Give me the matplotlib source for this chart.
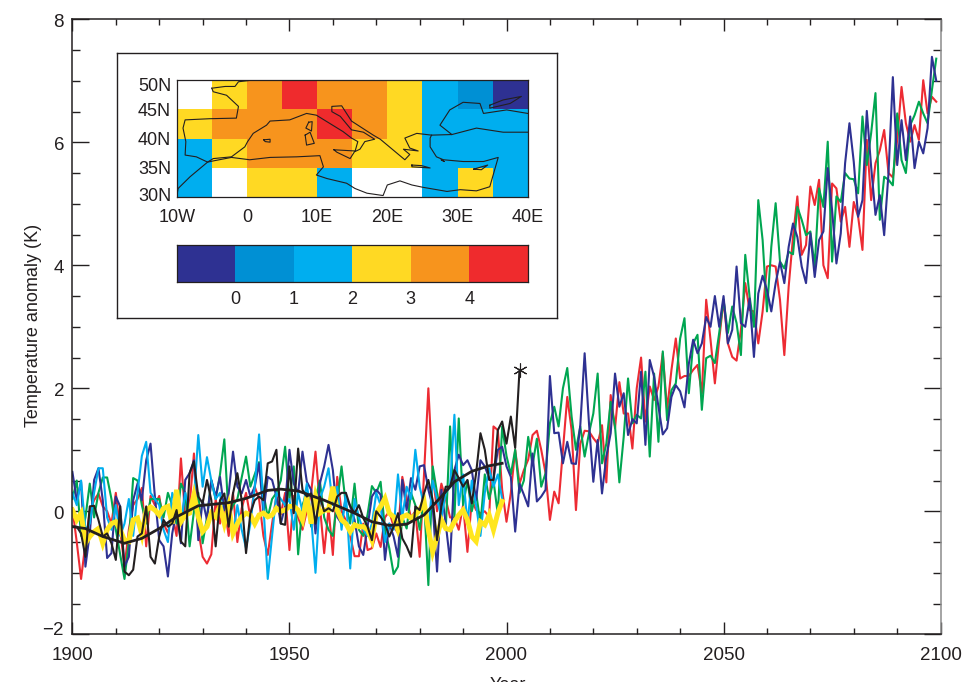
import numpy as np
import matplotlib
matplotlib.use("Agg")
from matplotlib import pyplot as plt
from matplotlib.colors import ListedColormap, BoundaryNorm
from matplotlib.ticker import MultipleLocator

plt.rcParams['font.family'] = ['Liberation Sans', 'DejaVu Sans']

W, H = 980, 682

# runs, one value per year from 1900
red_run = [
    .05, -.5, -1.1, -.52, .0, .18, .29, .08, .0, -.2,
    .3, -.3, -.9, -.3, .1, .2, .38, -.57, .25, .1,
    .25, -.2, -.35, -.05, -.4, .86, -.1, .1, .94, -.3,
    -.74, -.85, -.7, .2, -.2, .1, -.4, .3, -.5, .05,
    .3, -.1, .4, .2, -.4, -.71, -.2, .25, -.05, .3,
    -.63, .25, -.1, -.3, .0, .3, .97, .1, -.68, .05,
    -.71, .56, .0, -.15, -.4, -.73, -.73, -.2, -.63, -.6,
    -.36, -.58, -.1, .0, -.25, -.35, .56, .2, -.1, .0,
    -.74, .6, 2.0, .6, .0, .45, .2, -.1, -.1, -.3,
    .1, -.66, .18, .02, -.03, .0, -.09, 1.38, 1.32, .35,
    -.17, .3, 1.0, .45, .67, .84, 1.24, 1.31, 1.0, .62,
    -.14, .32, .13, 1.0, 1.86, 1.32, .02, 1.1, 1.31, 1.3,
    1.19, 1.1, 1.4, .47, 1.89, 1.35, 2.1, 1.59, 1.59, 1.02,
    2.0, 2.5, 1.46, 2.03, 1.81, 2.03, 2.57, 1.65, 2.3, 2.81,
    2.16, 2.2, 2.2, 2.3, 2.38, 1.92, 3.44, 2.79, 2.08, 2.79,
    3.44, 2.73, 2.51, 2.45, 2.95, 3.71, 3.27, 3.25, 2.73, 3.25,
    3.98, 4.0, 3.98, 3.44, 2.54, 3.65, 4.46, 5.12, 4.17, 4.33,
    5.28, 4.98, 5.39, 4.0, 3.79, 5.33, 5.25, 4.71, 4.95, 4.3,
    5.03, 4.79, 4.25, 6.04, 5.06, 5.66, 5.87, 6.2, 5.5, 5.43,
    6.04, 6.9, 6.31, 6.01, 6.28, 6.04, 7.01, 6.47, 6.74, 6.66,
]
green_run = [
    .2, .5, -.4, -.1, .45, -.1, .3, .55, .55, .2,
    -.3, -.7, -1.1, -.5, .54, .5, .1, -.2, .2, .2,
    .2, -.1, .3, .1, -.2, .45, .3, -.57, .0, .3,
    -.52, -.1, .5, .2, .6, 1.17, -.1, .1, .2, .55,
    .89, .4, .6, .8, .3, -.1, .2, .3, .5, 1.05,
    .2, .73, -.7, .1, .3, -.25, .2, .5, -.1, -.3,
    -.4, .15, .73, .1, -.2, .45, -.3, -.4, -.05, .41,
    .3, .48, -.3, -.6, -1.02, -.9, -.1, -.28, .3, .1,
    -.3, .2, -1.2, .73, .3, -.1, -.3, 1.38, -.1, 1.51,
    .1, .5, .0, .3, -.2, .6, .2, .5, -.05, 1.38,
    .9, .6, 1.0, .3, .5, 1.21, .75, 1.18, .4, .62,
    1.43, 1.7, 1.38, 2.0, 2.33, 1.54, 1.0, 1.38, .89, 1.27,
    1.59, 2.24, .78, 1.1, 1.78, 1.38, .47, 1.21, 2.16, 1.43,
    1.57, 1.51, 2.27, .89, 2.24, 1.13, 2.6, 1.48, 1.97, 2.08,
    2.81, 3.14, 1.92, 2.73, 2.87, 1.65, 2.49, 2.53, 2.41, 2.9,
    3.44, 2.9, 3.33, 3.06, 2.54, 4.17, 3.49, 3.0, 5.06, 4.41,
    3.25, 4.3, 5.01, 4.06, 3.95, 4.22, 4.18, 4.95, 4.74, 4.49,
    4.55, 3.98, 5.25, 4.95, 6.01, 4.06, 5.12, 5.03, 5.5, 5.41,
    5.4, 5.17, 6.42, 5.63, 6.15, 6.8, 4.74, 5.44, 5.39, 5.3,
    6.47, 5.71, 5.5, 6.28, 6.44, 6.66, 6.47, 6.31, 6.85, 7.36,
]
blue_run = [
    .64, .18, .48, -.9, -.36, .51, .7, .18, -.76, -.68,
    .24, .08, -.9, -.74, .18, .45, .18, .83, 1.1, .24,
    -.47, -.57, -1.06, -.36, .02, -.52, .51, .62, .83, -.47,
    .18, -.14, .51, .24, .56, .02, .29, .97, .4, .29,
    .51, .24, .4, .78, -.03, .56, .51, .24, -.2, .08,
    1.0, .45, .3, .97, .48, .35, -.36, .45, .73, 1.08,
    .67, -.09, -.2, .24, .08, -.14, -.57, -.71, -.25, .24,
    .35, .27, -.79, -.2, -.41, -.74, .51, .02, .54, .35,
    .73, .75, .35, .08, -.98, .35, -.2, -.82, .67, .92,
    .75, .83, .67, .18, .83, .73, .54, .51, 1.0, 1.05,
    .73, .56, -.33, .45, .27, .08, .94, .16, .24, .35,
    2.2, 1.27, 1.28, .78, 1.13, .78, .77, 1.4, 2.57, 1.43,
    .48, 1.16, .29, .89, 1.27, 2.24, 1.7, 1.92, 1.24, 1.5,
    1.43, 2.27, 1.08, 2.46, 2.19, 1.7, 1.25, 1.35, 1.86, 2.05,
    1.95, 1.69, 2.4, 2.79, 2.57, 2.73, 3.16, 3.0, 3.5, 3.0,
    3.5, 2.73, 2.95, 3.98, 3.06, 3.0, 3.46, 2.51, 3.54, 3.83,
    3.6, 3.25, 3.71, 4.06, 3.71, 4.3, 4.68, 4.46, 3.98, 3.71,
    4.52, 3.81, 4.41, 4.55, 5.58, 4.9, 4.03, 4.52, 5.66, 6.31,
    5.68, 4.79, 5.06, 6.51, 5.6, 4.82, 5.14, 4.49, 5.5, 7.06,
    5.63, 6.36, 5.71, 6.42, 5.58, 6.01, 5.82, 6.23, 7.39, 7.0,
]
cyan_run = [
    .3, .1, .5, -.3, -.2, .3, .7, .7, -.1, -.3,
    .1, -.4, -.2, .2, -.4, .3, .9, 1.13, .3, .2,
    .1, -.3, -.5, .3, .1, -.2, .3, .0, .2, 1.24,
    .4, .88, .5, .2, .3, -.2, .2, -.4, .1, -.3,
    -.6, -.2, .4, 1.25, .1, -1.1, -.4, .3, .2, .1,
    .2, -.3, .3, .0, .45, -.1, -1.0, .2, .4, .7,
    .1, .4, -.3, .3, -.93, .2, -.1, -.3, -.4, -.2,
    .3, .1, -.5, -.2, -.3, .6, -.1, .4, .2, 1.0,
    .4, .1, -.3, .5, .2, -.1, .3, .4, 1.57, .1,
    .6, -.2, .5, .1, -.4, .3, .7, .4, .6, .2,
]
# observations 1900-2003, the last one gets the star
obs = [
    -.25, -.25, -.36, -.74, .08, .09, -.14, -.41, -.36, -.52,
    -.79, .08, -.98, -1.04, -.95, -.41, -.36, .08, -.74, -.85,
    -.41, -.14, -.25, -.2, .02, -.49, -.57, .62, .81, .24,
    .13, .51, .18, -.57, .18, .29, -.25, .29, .62, .18,
    -.68, -.03, .18, .24, .18, .78, .81, 1.0, -.2, -.22,
    .73, -.03, 1.02, .35, .24, .29, -.2, .24, .0, .05,
    .0, .24, .3, .3, .08, -.03, .1, -.11, -.25, -.47,
    .0, -.09, -.2, -.41, -.25, -.03, -.44, -.57, -.74, .08,
    .02, .29, .51, .18, -.47, .08, .4, .4, .67, .54,
    .4, .51, .13, .62, 1.27, 1.0, .51, .51, 1.32, 1.46,
    1.1, 1.54, 1.03, 2.3,
]
ens_mean = [
    .02, -.14, -.03, -.52, -.41, -.33, -.28, -.52, -.3, -.2,
    -.17, -.3, -.47, -.49, -.14, -.11, -.38, .02, .07, .02,
    -.06, .05, .08, -.2, .35, -.17, -.06, -.03, .27, -.09,
    -.33, -.25, -.03, -.09, .08, -.2, .08, -.36, -.2, -.09,
    -.03, -.06, -.2, -.06, -.03, -.09, -.06, .05, .0, .02,
    .08, .08, .02, -.14, .24, -.2, .24, -.03, .02, .02,
    .4, .02, -.14, -.2, -.33, -.22, -.25, -.25, -.3, -.47,
    -.03, .08, .21, -.03, -.09, -.3, -.09, -.06, -.11, -.06,
    .02, .16, -.3, -.66, -.41, -.14, -.28, -.3, -.17, -.06,
    .02, -.14, -.41, -.49, -.17, -.22, -.06, -.3, -.03, .16,
]
smooth_years = [1900, 1903, 1907, 1912, 1916, 1920, 1924, 1929, 1936, 1940, 1945, 1948,
                1952, 1958, 1965, 1969, 1973, 1977, 1981, 1985, 1988, 1992, 1996, 1999]
smooth_vals = [-.25, -.28, -.41, -.52, -.44, -.28, -.09, .09, .14, .21, .34, .36,
               .33, .18, -.03, -.17, -.23, -.21, -.06, .24, .48, .65, .74, .78]
y_ticks = [-2, 0, 2, 4, 6, 8]

# inset: warming per 5 degree cell, south row first, nan = no data
lon_edges = [-10, -5, 0, 5, 10, 15, 20, 25, 30, 35, 40]
lat_edges = [30, 35, 40, 45, 50]
cells = [
    [1.5, np.nan, 2.5, 2.5, 1.5, np.nan, np.nan, 1.5, 2.5, 1.5],
    [1.5, 2.5, 3.5, 3.5, 3.5, 2.5, 2.5, 1.5, 1.5, 1.5],
    [2.5, 3.5, 3.5, 3.5, 4.5, 3.5, 2.5, 1.5, 1.5, 1.5],
    [np.nan, 2.5, 3.5, 4.5, 3.5, 3.5, 2.5, 1.5, 0.5, -0.5],
]
level_bounds = [-1, 0, 1, 2, 3, 4, 5]
level_colors = ['#2e3192', '#0090d4', '#00aeef', '#ffd923', '#f7941d', '#ef2b2d']
lon_ticks = [-10, 0, 10, 20, 30, 40]
lon_labels = ['10W', '0', '10E', '20E', '30E', '40E']
lat_labels = ['30N', '35N', '40N', '45N', '50N']

# rough coastlines, (lon, lat)
coasts = [
    [(-5.0, 48.6), (-3.1, 48.9), (-1.7, 48.9), (-1.2, 49.7), (0.9, 50.0)],
    [(-5.0, 48.6), (-4.8, 48.0), (-2.9, 47.4), (-1.2, 45.5), (-1.5, 43.5), (-5.3, 43.4), (-8.8, 43.2),
     (-9.1, 41.8), (-8.7, 39.5), (-8.8, 37.2), (-7.2, 36.9), (-5.6, 36.0), (-4.8, 36.6), (-2.2, 36.9),
     (-0.3, 38.6), (0.1, 39.5), (0.9, 40.9), (2.8, 42.3), (3.3, 43.0), (6.1, 43.2), (8.5, 44.3),
     (9.9, 44.0), (11.8, 42.6), (13.7, 41.2), (14.9, 40.1), (15.8, 39.5), (15.4, 37.8), (16.1, 38.2),
     (16.8, 39.5), (18.2, 39.9), (16.6, 41.1), (14.9, 41.5), (13.3, 43.8), (12.1, 44.6), (12.1, 45.5),
     (13.5, 45.6), (14.9, 43.0), (18.0, 40.6), (19.0, 39.9), (21.1, 37.8), (22.5, 36.4), (23.2, 37.3),
     (22.3, 38.2), (24.4, 37.9), (23.2, 38.4), (22.5, 40.1), (24.2, 40.9), (26.3, 40.6), (29.2, 40.7),
     (27.5, 42.3), (28.9, 44.9), (30.8, 46.2), (33.2, 46.0), (33.7, 44.3), (37.0, 44.9), (40.0, 44.3)],
    [(29.2, 40.7), (32.7, 41.8), (36.5, 41.1), (40.0, 41.1)],
    [(34.6, 45.7), (36.5, 46.6), (39.1, 47.2), (37.5, 46.0), (34.6, 45.2), (34.6, 45.7)],
    [(26.3, 40.6), (26.1, 40.1), (26.1, 38.6), (27.0, 36.9), (28.0, 36.4), (30.8, 36.1), (33.7, 36.1), (35.8, 36.8),
     (34.6, 31.8), (32.7, 31.1), (30.4, 31.3), (28.5, 31.0), (25.1, 31.7), (23.5, 32.1), (21.8, 32.8),
     (20.0, 32.1), (19.4, 30.3), (17.1, 30.7), (15.4, 31.5), (14.2, 32.4), (11.4, 33.2), (9.9, 33.8),
     (10.9, 35.2), (10.4, 37.1), (7.1, 36.9), (3.3, 36.8), (0.4, 36.4), (-2.2, 36.8), (-4.8, 36.2),
     (-5.6, 36.0), (-6.7, 34.9), (-8.1, 33.5), (-9.8, 31.5), (-10.0, 30.1)],
    [(12.4, 38.1), (15.4, 37.9), (14.7, 36.6), (12.8, 37.7), (12.4, 38.1)],
    [(8.3, 40.6), (9.0, 41.1), (9.6, 39.2), (8.5, 38.9), (8.3, 40.6)],
    [(8.8, 42.8), (9.3, 42.9), (9.2, 41.3), (8.4, 41.8), (8.8, 42.8)],
    [(2.4, 39.8), (3.3, 39.9), (3.3, 39.4), (2.6, 39.5), (2.4, 39.8)],
    [(23.5, 35.5), (24.9, 35.4), (26.1, 35.0), (23.5, 35.2), (23.5, 35.5)],
    [(32.3, 34.8), (34.3, 35.5), (33.4, 34.7), (32.3, 34.8)],
    [(27.7, 36.4), (28.1, 36.1), (27.7, 36.4)],
]

INK = '#231f20'


def px_axes(fig, left, top, right, bottom):
    # axes from pixel edges, y counted from the top of the image
    return fig.add_axes([left / W, 1 - bottom / H, (right - left) / W, (bottom - top) / H])


def main():
    fig = plt.figure(figsize=(W / 100, H / 100), dpi=100, facecolor='white')
    ax = px_axes(fig, 72.4, 19.3, 940.6, 634.3)

    ax.plot(1900 + np.arange(len(red_run)), red_run, color='#ed2b33', lw=1.5)
    ax.plot(1900 + np.arange(len(green_run)), green_run, color='#00a651', lw=1.5)
    ax.plot(1900 + np.arange(len(blue_run)), blue_run, color='#2e3192', lw=1.5)
    ax.plot(1900 + np.arange(len(cyan_run)), cyan_run, color='#00aeef', lw=1.5)
    ax.plot(1900 + np.arange(len(ens_mean)), ens_mean, color='#ffe61e', lw=3.6, solid_joinstyle='miter')
    ax.plot(1900 + np.arange(len(obs)), obs, color=INK, lw=1.5)
    ax.plot(smooth_years, smooth_vals, color=INK, lw=2.0)
    ax.plot(1900 + len(obs) - 1, obs[-1], marker=(6, 2, 0), ms=10, color=INK, mew=0.8, ls='none')

    ax.set_xlim(1900, 2100)
    ax.set_ylim(-2, 8)
    ax.xaxis.set_major_locator(MultipleLocator(50))
    ax.xaxis.set_minor_locator(MultipleLocator(10))
    ax.yaxis.set_major_locator(MultipleLocator(2))
    ax.yaxis.set_minor_locator(MultipleLocator(0.5))
    ax.tick_params(axis='x', which='major', direction='in', top=True, length=8.6, width=1, color=INK,
                   labelsize=13.5, pad=9, labelcolor=INK)
    ax.tick_params(axis='x', which='minor', direction='in', top=True, length=4.3, width=1, color=INK)
    ax.tick_params(axis='y', which='major', direction='in', right=True, length=12, width=1, color=INK,
                   labelleft=False)
    ax.tick_params(axis='y', which='minor', direction='in', right=True, length=5.8, width=1, color=INK)
    for tick in ax.yaxis.get_minor_ticks():
        tick.tick2line.set_color('#8c8c8c')
    for side in ax.spines:
        ax.spines[side].set_linewidth(1.1)
        ax.spines[side].set_color(INK)
    ax.spines['right'].set_color('#8c8c8c')

    # y labels sit a little below their ticks in the original, -2 above
    for v in y_ticks:
        dy = 3 if v == -2 else -2.5
        ax.annotate(str(v).replace('-', '\u2212'), xy=(0, v), xycoords=('axes fraction', 'data'),
                    xytext=(-6, dy), textcoords='offset points', ha='right', va='center',
                    fontsize=13.5, color=INK, annotation_clip=False)

    fig.text(34 / W, 1 - 325 / H, 'Temperature anomaly (K)', rotation=90, ha='center', va='center',
             fontsize=13, color=INK)
    fig.text(508 / W, 1 - 690 / H, 'Year', ha='center', va='baseline', fontsize=13, color=INK)

    # inset box
    box = px_axes(fig, 116.7, 53.3, 557.3, 318.3)
    box.set_xticks([])
    box.set_yticks([])
    for side in box.spines:
        box.spines[side].set_linewidth(1.0)
        box.spines[side].set_color(INK)

    cmap = ListedColormap(level_colors)
    cmap.set_bad('white')
    norm = BoundaryNorm(level_bounds, cmap.N)

    map_ax = px_axes(fig, 176.7, 80, 527.7, 197.3)
    map_ax.pcolormesh(lon_edges, lat_edges, np.ma.masked_invalid(np.array(cells)), cmap=cmap, norm=norm)
    for line in coasts:
        lons, lats = zip(*line)
        map_ax.plot(lons, lats, color=INK, lw=0.8)
    map_ax.set_xlim(-10, 40)
    map_ax.set_ylim(30, 50)
    map_ax.set_xticks(lon_ticks, lon_labels)
    # end labels pulled inward so they stay beside the map
    map_ax.set_yticks([30.5, 35, 40, 45, 49.3], lat_labels)
    map_ax.tick_params(axis='x', length=0, labelsize=13, pad=8.5, labelcolor=INK)
    map_ax.tick_params(axis='y', length=0, labelsize=13, pad=4, labelcolor=INK)
    for side in map_ax.spines:
        map_ax.spines[side].set_linewidth(0.9)
        map_ax.spines[side].set_color(INK)

    bar_ax = px_axes(fig, 176.7, 245, 527.7, 282.3)
    bar_ax.pcolormesh(level_bounds, [0, 1], np.array([[-.5, .5, 1.5, 2.5, 3.5, 4.5]]), cmap=cmap, norm=norm)
    bar_ax.set_yticks([])
    bar_ax.set_xticks(level_bounds[1:-1])
    bar_ax.tick_params(axis='x', length=0, labelsize=13, pad=6.5, labelcolor=INK)
    for side in bar_ax.spines:
        bar_ax.spines[side].set_linewidth(0.9)
        bar_ax.spines[side].set_color(INK)

    fig.savefig('out.png', dpi=100)


if __name__ == "__main__":
    main()
